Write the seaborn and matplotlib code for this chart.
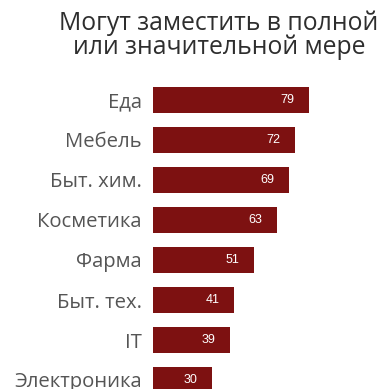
import matplotlib
matplotlib.use("Agg")
import matplotlib.pyplot as plt
import seaborn as sns
import pandas as pd

categories = ["Еда", "Мебель", "Быт. хим.", "Косметика", "Фарма", "Быт. тех.", "IT", "Электроника"]
values = [79, 72, 69, 63, 51, 41, 39, 30]
title = "Могут заместить в полной\nили значительной мере"

df = pd.DataFrame({"cat": categories, "val": values})

sns.set_theme(style="white")
plt.rcParams['font.family'] = ['Open Sans', 'DejaVu Sans']

W, H = 384, 389
fig = plt.figure(figsize=(W / 100, H / 100), dpi=100)
ax = fig.add_axes([153 / W, 0, (W - 153) / W, (H - 80) / H])

sns.barplot(data=df, x="val", y="cat", color="#7d1111", width=0.65, ax=ax,
            saturation=1, edgecolor="none")

ax.set_xlim(0, (W - 153) / 1.975)
ax.set_ylim(-0.5 + (H - 80) / 40, -0.5)
ax.set_xlabel("")
ax.set_ylabel("")
ax.set_xticks([])
ax.tick_params(axis="y", length=0, pad=8, labelsize=14.6, labelcolor="#555555")
for s in ax.spines.values():
    s.set_visible(False)

for i, v in enumerate(values):
    ax.text(v - 11, i, str(v), ha="center", va="center", color="white",
            fontsize=9, family=["Liberation Sans", "DejaVu Sans"])

fig.text(219 / W, 1 - 11 / H, title, ha="center", va="top", fontsize=17.8,
         color="#2e2e2e", linespacing=0.92)

fig.savefig("out.png", dpi=100)
